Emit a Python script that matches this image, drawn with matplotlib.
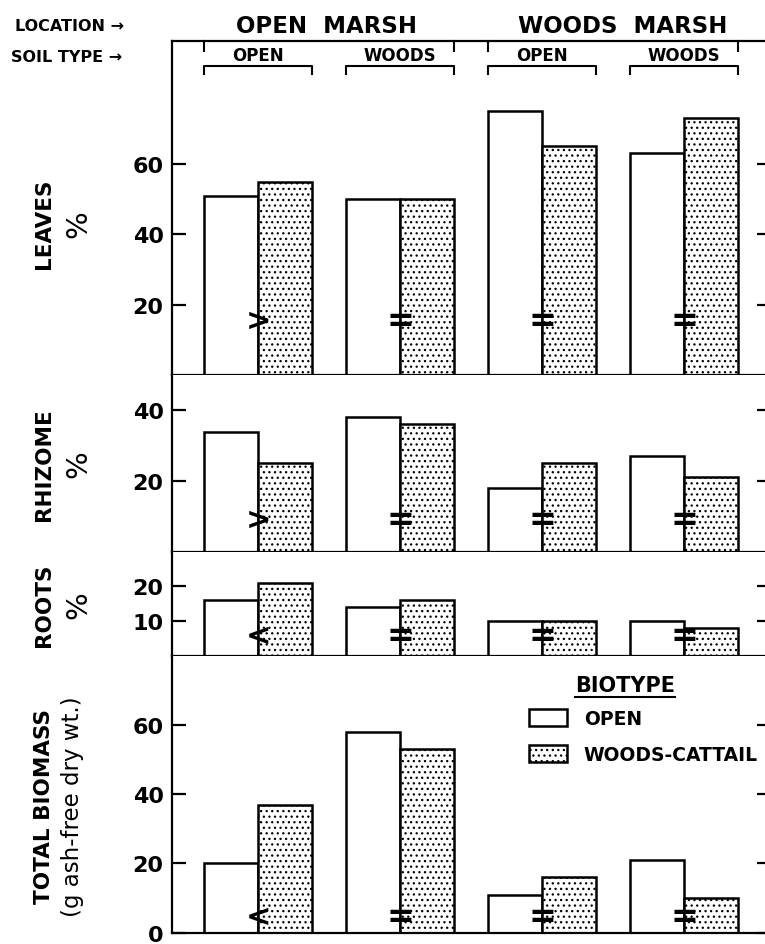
import numpy as np
import matplotlib
matplotlib.use("Agg")
import matplotlib.pyplot as plt
from matplotlib.patches import Patch
from matplotlib.lines import Line2D
import matplotlib.transforms as mtransforms

# ---- data ----
soil_types = ["OPEN", "WOODS", "OPEN", "WOODS"]
locations = ["OPEN  MARSH", "WOODS  MARSH"]

leaves_open = [51, 50, 75, 63]
leaves_woods = [55, 50, 65, 73]
rhizome_open = [34, 38, 18, 27]
rhizome_woods = [25, 36, 25, 21]
roots_open = [16, 14, 10, 10]
roots_woods = [21, 16, 10, 8]
biomass_open = [20, 58, 11, 21]
biomass_woods = [37, 53, 16, 10]

leaves_sig = [">", "=", "=", "="]
rhizome_sig = [">", "=", "=", "="]
roots_sig = ["<", "=", "=", "="]
biomass_sig = ["<", "=", "=", "="]

plt.rcParams['font.family'] = ['DejaVu Sans']
plt.rcParams['font.weight'] = 'bold'
plt.rcParams['hatch.linewidth'] = 0.9

fig = plt.figure(figsize=(7.65, 9.45), dpi=100)

left, width = 0.2248, 0.7752
panels = [
    # (bottom, height, ylim, ticks, open, woods, sig, sig_y, labels, label_y)
    (0.6021, 0.3535, 95, [20, 40, 60], leaves_open, leaves_woods, leaves_sig, 15.5,
     ["LEAVES", "%"], 0.455),
    (0.4153, 0.1868, 50, [20, 40], rhizome_open, rhizome_woods, rhizome_sig, 9,
     ["RHIZOME", "%"], 0.5),
    (0.3048, 0.1105, 30, [10, 20], roots_open, roots_woods, roots_sig, 5.8,
     ["ROOTS", "%"], 0.5),
    (0.012, 0.2928, 80, [0, 20, 40, 60], biomass_open, biomass_woods, biomass_sig, 4.8,
     ["TOTAL BIOMASS", "(g ash-free dry wt.)"], 0.46),
]

x = np.arange(len(soil_types))
w = 0.38
lw = 1.8
axes = []
for i, (b, h, ymax, ticks, ov, wv, sig, sy, lab, ly) in enumerate(panels):
    ax = fig.add_axes([left, b, width, h])
    axes.append(ax)
    ax.bar(x - w / 2, ov, width=w, facecolor="white", edgecolor="black", linewidth=lw, zorder=2)
    ax.bar(x + w / 2, wv, width=w, facecolor="white", edgecolor="black", linewidth=lw,
           hatch="...", zorder=2)
    for xi, s in zip(x, sig):
        ax.text(xi, sy, s, ha="center", va="center", fontsize=24 if s == "=" else 22,
                fontweight="bold", zorder=3)
    ax.set_xlim(-0.606, 3.57)
    ax.set_ylim(0, ymax)
    ax.set_yticks(ticks)
    ax.set_xticks([])
    ax.tick_params(axis="y", direction="in", length=10, width=1.6, labelsize=16, pad=6,
                   right=True)
    for t in ax.yaxis.get_major_ticks():
        t.tick2line.set_markersize(6)
    for lbl in ax.get_yticklabels():
        lbl.set_fontweight("bold")
    ax.spines["right"].set_visible(False)
    ax.spines["top"].set_visible(i == 0)
    for s in ["left", "bottom", "top"]:
        ax.spines[s].set_linewidth(1.6)

    # rotated panel labels
    ax.text(-0.216, ly, lab[0], transform=ax.transAxes, rotation=90,
            ha="center", va="center", fontsize=15.5, fontweight="bold")
    if i < 3:
        ax.text(-0.158, ly, lab[1], transform=ax.transAxes, rotation=90,
                ha="center", va="center", fontsize=21, fontweight="normal")
    else:
        ax.text(-0.168, ly, lab[1], transform=ax.transAxes, rotation=90,
                ha="center", va="center", fontsize=16.5, fontweight="normal")

# ---- header: location and soil type brackets ----
top = axes[0]
trans = mtransforms.blended_transform_factory(top.transData, fig.transFigure)
fig.text(0.02, 0.972, "LOCATION \u2192", fontsize=11.5, fontweight="bold", va="center")
fig.text(0.015, 0.939, "SOIL TYPE \u2192", fontsize=11.5, fontweight="bold", va="center")
top.text(0.48, 0.972, locations[0], transform=trans, ha="center", va="center", fontsize=16.5,
         fontweight="bold")
top.text(2.57, 0.972, locations[1], transform=trans, ha="center", va="center", fontsize=16.5,
         fontweight="bold")

y_line = 1 - 67 / 945
y_tick = 1 - 75 / 945
for xi, name in zip(x, soil_types):
    x0, x1 = xi - w, xi + w
    top.add_line(Line2D([x0, x0, x1, x1], [y_tick, y_line, y_line, y_tick], transform=trans,
                        color="black", lw=1.5, clip_on=False))
    top.text(xi, y_line + 0.002, name, transform=trans, ha="center", va="bottom",
             fontsize=12, fontweight="bold")
y_top = 1 - 42 / 945
y_mark = 1 - 52 / 945
for xm in [x[0] - w, x[1] + w, x[2] - w, x[3] + w]:
    top.add_line(Line2D([xm, xm], [y_top, y_mark], transform=trans, color="black", lw=1.5,
                        clip_on=False))

# ---- legend ----
bio = axes[3]
bio.text(0.764, 0.894, "BIOTYPE", transform=bio.transAxes, ha="center", va="center",
         fontsize=15, fontweight="bold")
bio.add_line(Line2D([0.68, 0.848], [0.852, 0.852], transform=bio.transAxes, color="black",
                    lw=1.5))
handles = [Patch(facecolor="white", edgecolor="black", linewidth=lw),
           Patch(facecolor="white", edgecolor="black", linewidth=lw, hatch="...")]
bio.legend(handles, ["OPEN", "WOODS-CATTAIL"], loc="upper left", bbox_to_anchor=(0.59, 0.835),
           frameon=False, fontsize=13.5, handlelength=2.0, handleheight=1.0, labelspacing=0.9,
           handletextpad=0.9, borderaxespad=0)

fig.savefig("out.png", dpi=100)
